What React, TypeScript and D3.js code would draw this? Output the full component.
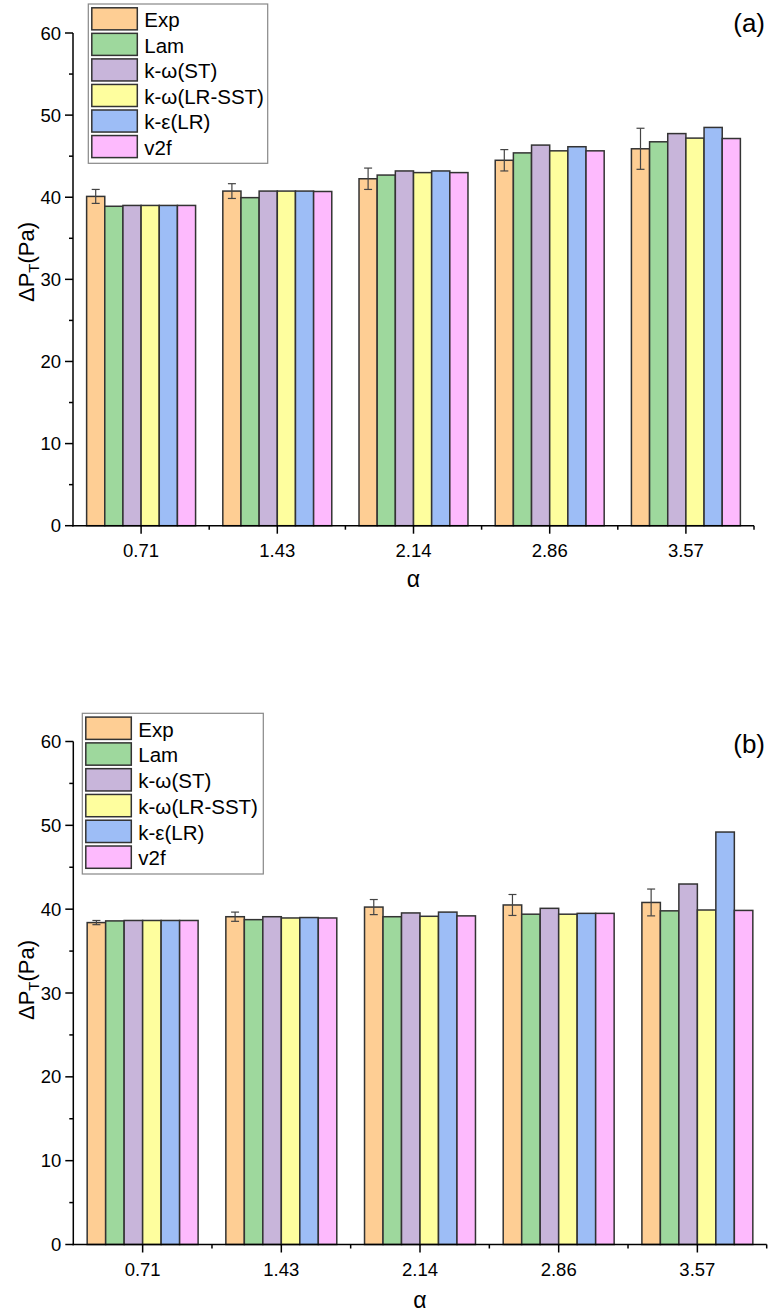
import React from "react";
import * as d3 from "d3";

const categories = ["0.71", "1.43", "2.14", "2.86", "3.57"];
const seriesNames = ["Exp", "Lam", "k-ω(ST)", "k-ω(LR-SST)", "k-ε(LR)", "v2f"];
const seriesColors = ["#FECE94", "#9ED89D", "#C8B5DA", "#FEFE9E", "#9DBDF6", "#FDBAFD"];
const yTicks = [0, 10, 20, 30, 40, 50, 60];
const yMinorTicks = [5, 15, 25, 35, 45, 55];

// Panel (a)
const aExp = [40.1, 40.75, 42.25, 44.5, 45.9];
const aExpErr = [0.85, 0.9, 1.3, 1.3, 2.5];
const aLam = [38.9, 39.95, 42.7, 45.4, 46.75];
const aST = [39.0, 40.75, 43.2, 46.35, 47.75];
const aLRSST = [39.0, 40.75, 43.0, 45.65, 47.2];
const aKE = [39.0, 40.75, 43.2, 46.15, 48.5];
const aV2f = [39.0, 40.7, 43.0, 45.65, 47.15];

// Panel (b)
const bExp = [38.4, 39.1, 40.25, 40.5, 40.8];
const bExpErr = [0.25, 0.55, 0.9, 1.25, 1.6];
const bLam = [38.6, 38.75, 39.1, 39.4, 39.8];
const bST = [38.65, 39.1, 39.55, 40.1, 43.0];
const bLRSST = [38.65, 38.95, 39.15, 39.4, 39.9];
const bKE = [38.65, 39.0, 39.65, 39.5, 49.2];
const bV2f = [38.65, 38.95, 39.2, 39.5, 39.85];

const FONT = "'Liberation Sans', Arial, sans-serif";
const STROKE = "#333";

type PanelProps = {
  values: number[][];
  errs: number[];
  x0: number; x1: number; yTop: number; yBottom: number;
  legend: { x: number; y: number; w: number; h: number };
  label: string; labelX: number; labelY: number;
  yTitleX: number; yTitleY: number; xTitleY: number;
};

function Panel(p: PanelProps) {
  const x = d3.scaleBand<string>().domain(categories).range([p.x0, p.x1]).paddingInner(0).paddingOuter(0);
  const xs = d3.scaleBand<string>().domain(seriesNames).range([0, x.bandwidth()]).paddingInner(0).paddingOuter(0.75);
  const y = d3.scaleLinear().domain([0, 60]).range([p.yBottom, p.yTop]);
  const bw = xs.bandwidth();
  const boundaries = categories.map((c) => x(c)!).concat([p.x1]);
  const rowH = (p.legend.h - 6) / seriesNames.length;
  return (
    <g>
      {categories.map((c, ci) => (
        <g key={c}>
          {seriesNames.map((s, si) => {
            const v = p.values[si][ci];
            const bx = x(c)! + xs(s)!;
            return (
              <rect key={s} x={bx} y={y(v)} width={bw} height={y(0) - y(v)}
                fill={seriesColors[si]} stroke={STROKE} strokeWidth={1.5} />
            );
          })}
          {(() => {
            const cx = x(c)! + xs(seriesNames[0])! + bw / 2;
            const v = p.values[0][ci];
            const e = p.errs[ci];
            return (
              <g stroke="#444" strokeWidth={1.2}>
                <line x1={cx} x2={cx} y1={y(v + e)} y2={y(v - e)} />
                <line x1={cx - 4} x2={cx + 4} y1={y(v + e)} y2={y(v + e)} />
                <line x1={cx - 4} x2={cx + 4} y1={y(v - e)} y2={y(v - e)} />
              </g>
            );
          })()}
        </g>
      ))}
      <line x1={p.x0} x2={p.x0} y1={y(60)} y2={y(0) + 0.75} stroke="#000" strokeWidth={1.5} />
      {yTicks.map((t) => (
        <g key={t}>
          <line x1={p.x0 - 8} x2={p.x0} y1={y(t)} y2={y(t)} stroke="#000" strokeWidth={1.5} />
          <text x={p.x0 - 12} y={y(t)} dy="0.36em" textAnchor="end" fontSize={18.5} fontFamily={FONT}>{t}</text>
        </g>
      ))}
      {yMinorTicks.map((t) => (
        <line key={t} x1={p.x0 - 4} x2={p.x0} y1={y(t)} y2={y(t)} stroke="#000" strokeWidth={1.5} />
      ))}
      <line x1={p.x0 - 0.75} x2={p.x1} y1={y(0)} y2={y(0)} stroke="#000" strokeWidth={1.5} />
      {categories.map((c) => (
        <g key={c}>
          <line x1={x(c)! + x.bandwidth() / 2} x2={x(c)! + x.bandwidth() / 2} y1={y(0)} y2={y(0) + 8} stroke="#000" strokeWidth={1.5} />
          <text x={x(c)! + x.bandwidth() / 2} y={y(0) + 31} textAnchor="middle" fontSize={18.5} fontFamily={FONT}>{c}</text>
        </g>
      ))}
      {boundaries.slice(1).map((b, i) => (
        <line key={i} x1={b} x2={b} y1={y(0)} y2={y(0) + 4} stroke="#000" strokeWidth={1.5} />
      ))}
      <text x={(p.x0 + p.x1) / 2} y={p.xTitleY} textAnchor="middle" fontSize={23} fontFamily={FONT}>α</text>
      <text transform={`translate(${p.yTitleX},${p.yTitleY}) rotate(-90)`} textAnchor="middle" fontSize={22} fontFamily={FONT}>
        ΔP<tspan fontSize={15} dy={5}>T</tspan><tspan dy={-5}>(Pa)</tspan>
      </text>
      <text x={p.labelX} y={p.labelY} textAnchor="end" fontSize={26} fontFamily={FONT}>{p.label}</text>
      <rect x={p.legend.x} y={p.legend.y} width={p.legend.w} height={p.legend.h} fill="#fff" stroke="#888" strokeWidth={1.2} />
      {seriesNames.map((s, si) => {
        const ry = p.legend.y + 3 + si * rowH;
        return (
          <g key={s}>
            <rect x={p.legend.x + 3.5} y={ry + 0.8} width={45.5} height={rowH - 3.5} fill={seriesColors[si]} stroke={STROKE} strokeWidth={1.5} />
            <text x={p.legend.x + 56} y={ry + rowH / 2} dy="0.36em" fontSize={20.5} fontFamily={FONT}>{s}</text>
          </g>
        );
      })}
    </g>
  );
}

export default function App() {
  return (
    <svg width={784} height={1313} style={{ position: "absolute", left: 0, top: 0, background: "#fff" }}>
      <Panel
        values={[aExp, aLam, aST, aLRSST, aKE, aV2f]}
        errs={aExpErr}
        x0={73} x1={754} yTop={33} yBottom={525.7}
        legend={{ x: 88.3, y: 4, w: 179.4, h: 159.3 }}
        label="(a)" labelX={765} labelY={32}
        yTitleX={34} yTitleY={262} xTitleY={587}
      />
      <Panel
        values={[bExp, bLam, bST, bLRSST, bKE, bV2f]}
        errs={bExpErr}
        x0={73.3} x1={766.7} yTop={741.5} yBottom={1244.5}
        legend={{ x: 82.3, y: 713.3, w: 181, h: 160.7 }}
        label="(b)" labelX={765} labelY={753}
        yTitleX={34} yTitleY={980} xTitleY={1308}
      />
    </svg>
  );
}
